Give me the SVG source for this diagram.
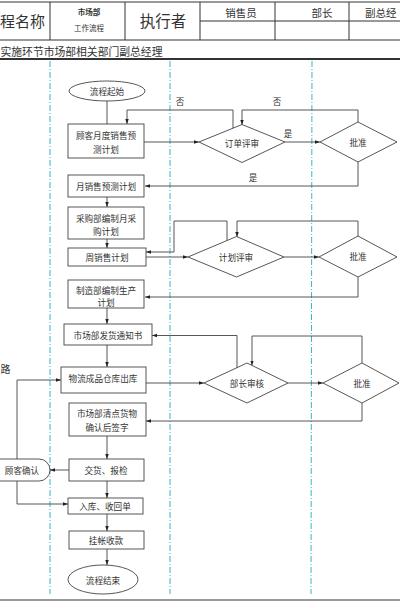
<svg xmlns="http://www.w3.org/2000/svg" width="400" height="608" viewBox="0 0 400 608">
<style>
.t{font-family:"Noto Sans CJK SC","Noto Sans",sans-serif;fill:#333;font-size:8.6px;text-anchor:middle;dominant-baseline:central}
.h{font-family:"Noto Sans CJK SC","Noto Sans",sans-serif;fill:#333;dominant-baseline:central}
.n{fill:#fff;stroke:#444;stroke-width:0.9}
.c{fill:none;stroke:#444;stroke-width:0.9}
.a{marker-end:url(#ah)}
.lane{stroke:#3cb4cc;stroke-width:1;stroke-dasharray:6 2 1 2;fill:none}
.g{stroke:#333;stroke-width:1;fill:none}
</style>
<defs>
<marker id="ah" viewBox="0 0 10 10" refX="10" refY="5" markerWidth="5" markerHeight="5" orient="auto" markerUnits="userSpaceOnUse">
<path d="M0,1.5 L10,5 L0,8.5 z" fill="#222"/>
</marker>
</defs>
<rect width="400" height="608" fill="#fff"/>
<g id="header">
<line class="g" x1="0" y1="2" x2="400" y2="2"/>
<line class="g" x1="0" y1="40" x2="400" y2="40"/>
<line class="g" x1="200" y1="21" x2="400" y2="21"/>
<line class="g" x1="50" y1="2" x2="50" y2="40"/>
<line class="g" x1="125" y1="2" x2="125" y2="40"/>
<line class="g" x1="200" y1="2" x2="200" y2="40"/>
<line class="g" x1="275" y1="2" x2="275" y2="40"/>
<line class="g" x1="349" y1="2" x2="349" y2="40"/>
<line x1="0" y1="59" x2="400" y2="59" stroke="#333" stroke-width="2.2"/>
<text class="h" x="0" y="20" font-size="15">程名称</text>
<text class="h" x="89" y="11" font-size="7.5" text-anchor="middle" font-weight="bold">市场部</text>
<text class="h" x="89" y="27" font-size="7.5" text-anchor="middle">工作流程</text>
<text class="h" x="163" y="20" font-size="15.5" text-anchor="middle">执行者</text>
<text class="h" x="241" y="12" font-size="10.5" text-anchor="middle">销售员</text>
<text class="h" x="322" y="12" font-size="10.5" text-anchor="middle">部长</text>
<text class="h" x="365" y="12" font-size="10.5">副总经</text>
<text class="h" x="0.5" y="51" font-size="10.8">实施环节市场部相关部门副总经理</text>
<text class="h" x="0.5" y="368" font-size="10">路</text>
<line x1="0" y1="600" x2="400" y2="600" stroke="#999" stroke-width="2"/>
</g>
<g id="lanes">
<line class="lane" x1="50" y1="61" x2="50" y2="594"/>
<line class="lane" x1="170" y1="61" x2="170" y2="594"/>
<line class="lane" x1="312" y1="61" x2="311" y2="594"/>
</g>
<g id="connectors">
<polyline class="c" points="107,101 107,124"/>
<polyline class="c a" points="144,142 199,142"/>
<polyline class="c a" points="233,129 233,110 127,110 127,124"/>
<polyline class="c a" points="285,142 320,142"/>
<polyline class="c a" points="358,122 358,110 242,110 242,125"/>
<polyline class="c a" points="358,162 358,186 145,186"/>
<polyline class="c a" points="107,197 107,207"/>
<polyline class="c a" points="107,239 107,248"/>
<polyline class="c a" points="146,257 188,257"/>
<polyline class="c a" points="227,241 227,221 174,221 174,252 146,252"/>
<polyline class="c a" points="358,236 358,221 237,221 237,237"/>
<polyline class="c a" points="284,257 319,257"/>
<polyline class="c a" points="358,277 358,297 145,297"/>
<polyline class="c a" points="107,307 107,324"/>
<polyline class="c a" points="107,345 107,367"/>
<polyline class="c a" points="237,368 237,335.5 152,335.5"/>
<polyline class="c a" points="146,383 204,383"/>
<polyline class="c a" points="362,363 362,336 252,336 252,365.5"/>
<polyline class="c a" points="288,383 323,383"/>
<polyline class="c a" points="362,403 362,421 146,421"/>
<polyline class="c a" points="107,436 107,459"/>
<polyline class="c a" points="69,470 50,470"/>
<polyline class="c a" points="17,459 17,380 61,380"/>
<polyline class="c a" points="17,481 17,504 68,504"/>
<polyline class="c a" points="107,481 107,498"/>
<polyline class="c a" points="107,514 107,531"/>
<polyline class="c a" points="107,549 107,565"/>
<text class="t" x="180" y="101">否</text>
<text class="t" x="277" y="101">否</text>
<text class="t" x="288" y="133">是</text>
<text class="t" x="253" y="177">是</text>
</g>
<g id="start"><ellipse class="n" cx="107" cy="91" rx="38" ry="10"/><text class="t" x="107" y="91">流程起始</text></g>
<g id="n1"><rect class="n" x="68" y="124" width="76" height="34"/><text class="t" x="106" y="135">顾客月度销售预</text><text class="t" x="106" y="148.5">测计划</text></g>
<g id="d1"><polygon class="n" points="199,142 242,124.5 285,142 242,162.5"/><text class="t" x="242" y="143">订单评审</text></g>
<g id="d2"><polygon class="n" points="320,142 358,122 397,142 358,162"/><text class="t" x="358" y="142">批准</text></g>
<g id="n2"><rect class="n" x="68" y="175" width="76" height="22"/><text class="t" x="106" y="186">月销售预测计划</text></g>
<g id="n3"><rect class="n" x="68" y="207" width="76" height="32"/><text class="t" x="106" y="217.5">采购部编制月采</text><text class="t" x="106" y="231">购计划</text></g>
<g id="n4"><rect class="n" x="68" y="248" width="78" height="18"/><text class="t" x="107" y="257">周销售计划</text></g>
<g id="d3"><polygon class="n" points="188,257 236.5,236.5 284,257 236.5,277"/><text class="t" x="236" y="257">计划评审</text></g>
<g id="d4"><polygon class="n" points="319,257 358,236 397,257 358,277"/><text class="t" x="358" y="256">批准</text></g>
<g id="n5"><rect class="n" x="68" y="280" width="76" height="28"/><text class="t" x="106" y="289.5">制造部编制生产</text><text class="t" x="106" y="302">计划</text></g>
<g id="n6"><rect class="n" x="64" y="324" width="88" height="21"/><text class="t" x="108" y="335">市场部发货通知书</text></g>
<g id="n7"><rect class="n" x="61" y="367" width="85" height="26"/><text class="t" x="103" y="378">物流成品仓库出库</text></g>
<g id="d5"><polygon class="n" points="204,383 247,363 288,383 247,403"/><text class="t" x="247" y="383">部长审核</text></g>
<g id="d6"><polygon class="n" points="323,383 362,363 399,383 362,403"/><text class="t" x="362" y="383">批准</text></g>
<g id="n8"><rect class="n" x="69" y="403" width="77" height="33"/><text class="t" x="107" y="413">市场部清点货物</text><text class="t" x="107" y="427">确认后签字</text></g>
<g id="n9"><rect class="n" x="69" y="459" width="75" height="22"/><text class="t" x="106" y="470">交货、报检</text></g>
<g id="cust"><rect class="n" x="-30" y="459" width="80" height="22" rx="11"/><text class="t" x="22" y="470" font-size="9.5">顾客确认</text></g>
<g id="n10"><rect class="n" x="68" y="498" width="75" height="16"/><text class="t" x="105" y="506">入库、收回单</text></g>
<g id="n11"><rect class="n" x="69" y="531" width="75" height="18"/><text class="t" x="106" y="540">挂帐收款</text></g>
<g id="end"><ellipse class="n" cx="103" cy="579.5" rx="35" ry="14.5"/><text class="t" x="103" y="579.5">流程结束</text></g>
</svg>
